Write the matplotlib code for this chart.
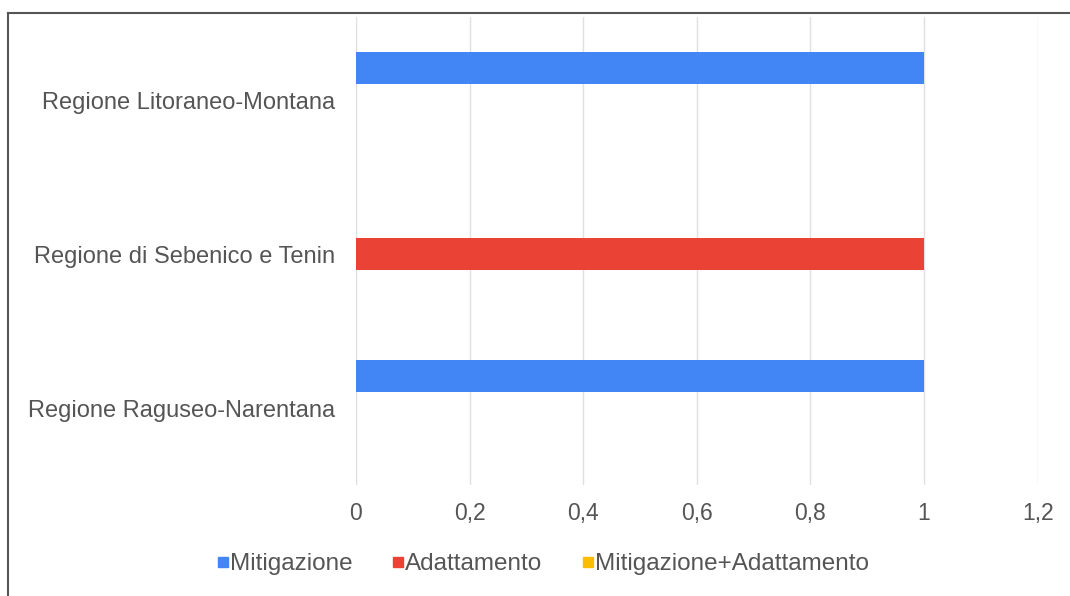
import matplotlib
matplotlib.use("Agg")
import matplotlib.pyplot as plt
from matplotlib.ticker import FuncFormatter, FixedLocator
from matplotlib.lines import Line2D
import numpy as np

plt.rcParams['font.family'] = ['Liberation Sans', 'DejaVu Sans']

categories = ["Regione Litoraneo-Montana", "Regione di Sebenico e Tenin", "Regione Raguseo-Narentana"]
series_names = ["Mitigazione", "Adattamento", "Mitigazione+Adattamento"]
mitigazione = [1, 0, 1]
adattamento = [0, 1, 0]
mitigazione_adattamento = [0, 0, 0]
x_ticks = [0, 0.2, 0.4, 0.6, 0.8, 1.0, 1.2]

colors = ["#4285F4", "#EA4335", "#FBBC04"]
text_color = "#555555"

fig = plt.figure(figsize=(10.70, 5.96), dpi=100)
ax = fig.add_axes([356/1070, 1 - 485/596, (1037.6 - 356)/1070, (485 - 17)/596])

y = np.arange(len(categories))
h = 0.208
for i, (vals, name) in enumerate(zip([mitigazione, adattamento, mitigazione_adattamento], series_names)):
    ax.barh(y + (i - 1) * h, vals, height=h, color=colors[i], label=name, zorder=3)

ax.set_xlim(0, 1.2)
ax.set_ylim(2.5, -0.54)
ax.xaxis.set_major_locator(FixedLocator(x_ticks))
ax.xaxis.set_major_formatter(FuncFormatter(lambda v, p: ('%g' % round(v, 2)).replace('.', ',')))
ax.set_yticks(y)
ax.set_yticklabels(categories, fontsize=17)
ax.grid(axis='x', color='#e0e0e0', linewidth=1, zorder=0)
for s in ax.spines.values():
    s.set_visible(False)
ax.tick_params(axis='both', length=0, colors=text_color)
ax.tick_params(axis='x', pad=12, labelsize=16.5)
ax.tick_params(axis='y', pad=15)

handles = [Line2D([], [], marker='s', linestyle='none', markersize=6.5, color=c) for c in colors]
leg = fig.legend(handles, series_names, loc='center', bbox_to_anchor=(543/1070, 1 - 564/596), ncol=3,
                 frameon=False, fontsize=17.5, labelcolor=text_color, handletextpad=0.05,
                 columnspacing=1.6, handlelength=0.5)

# frame lines (top and left)
fig.add_artist(Line2D([8/1070, 1], [1 - 13/596, 1 - 13/596], color='#555555', linewidth=1.5, transform=fig.transFigure))
fig.add_artist(Line2D([8/1070, 8/1070], [0, 1 - 13/596], color='#555555', linewidth=1.5, transform=fig.transFigure))

fig.savefig("out.png", dpi=100)
